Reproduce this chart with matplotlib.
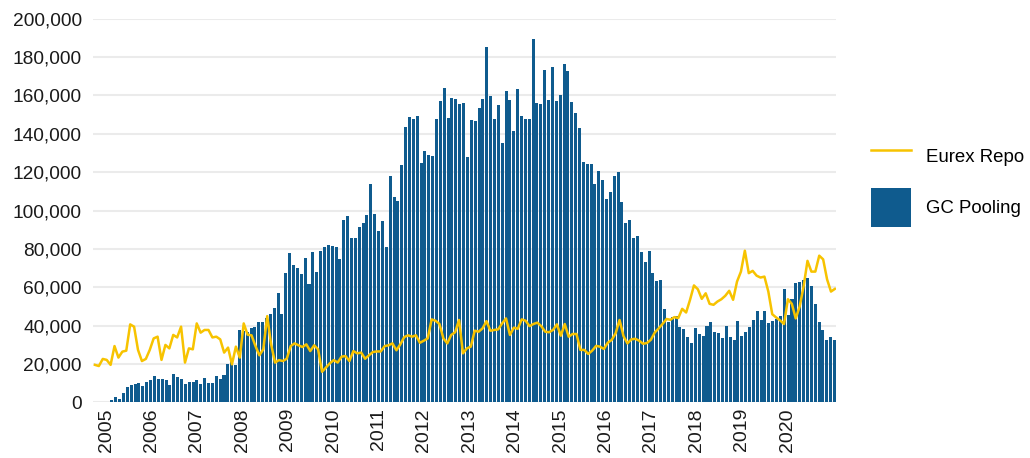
import matplotlib
matplotlib.use("Agg")
import matplotlib.pyplot as plt
import numpy as np
from matplotlib.ticker import FuncFormatter

plt.rcParams['font.family'] = ['Liberation Sans', 'DejaVu Sans']

# GC Pooling volumes, monthly bars starting 2005 (thousands)
gc_pooling = [
    0.5, 1.4, 2.8, 2.0, 5.2, 8.0, 9.2, 9.5, 10.0, 8.7, 10.7, 11.8, 13.9, 12.0, 12.3, 11.8,
    9.2, 14.7, 13.3, 12.0, 9.7, 10.6, 10.7, 11.8, 9.7, 12.8, 9.9, 10.2, 13.9, 12.5, 14.2, 20.0,
    22.5, 19.5, 37.6, 37.0, 36.7, 38.8, 39.1, 41.7, 42.2, 43.8, 46.0, 49.2, 57.3, 46.0, 67.7, 78.1,
    71.8, 70.3, 66.7, 75.5, 62.0, 78.6, 68.2, 79.1, 81.2, 82.2, 81.7, 81.2, 75.0, 95.2, 97.3, 85.9,
    85.9, 91.6, 93.7, 97.8, 113.9, 98.3, 89.5, 94.7, 81.2, 117.9, 107.2, 104.9, 123.6, 143.4, 148.6, 147.5,
    149.1, 124.9, 131.0, 128.9, 128.4, 147.6, 157.0, 163.7, 148.1, 158.5, 158.0, 155.4, 155.9, 127.9, 147.1, 146.6,
    153.3, 158.0, 185.2, 159.6, 147.6, 154.9, 135.1, 162.2, 157.5, 141.4, 163.2, 149.2, 147.6, 147.6, 189.2, 155.9,
    155.4, 173.1, 157.5, 174.6, 157.0, 160.1, 176.2, 172.6, 156.4, 150.7, 142.9, 125.3, 124.2, 124.2, 113.8, 120.6,
    115.9, 106.0, 109.7, 118.0, 120.1, 104.5, 93.6, 95.1, 85.8, 86.8, 78.4, 73.2, 79.0, 67.5, 63.4, 63.9,
    48.8, 42.1, 44.7, 45.2, 39.5, 38.4, 34.3, 30.9, 38.7, 35.6, 34.5, 39.7, 41.8, 36.6, 36.1, 33.5,
    39.7, 34.0, 32.5, 42.3, 34.5, 36.6, 39.2, 42.9, 47.5, 42.9, 47.5, 41.3, 42.3, 43.4, 44.9, 59.0,
    45.5, 53.8, 62.1, 62.6, 63.6, 64.7, 60.5, 51.2, 41.8, 37.7, 32.5, 34.0, 32.5,
]

# Eurex Repo volumes (thousands), starts a few months before the bars
eurex_repo = [
    19.6, 19.0, 22.7, 22.2, 19.6, 29.4, 23.4, 26.5, 27.0, 40.7, 39.5, 27.4, 21.6, 22.7, 27.4, 33.4,
    34.3, 22.2, 30.0, 28.2, 35.2, 33.9, 39.5, 20.8, 28.2, 27.7, 41.2, 36.4, 37.8, 37.8, 33.9, 34.3,
    32.9, 26.0,
    28.6, 19.9, 29.1, 23.4, 41.2, 35.3, 35.0, 29.4, 24.6, 27.7, 45.0, 30.3, 20.8, 22.1, 21.6, 22.8,
    29.4, 30.8, 29.8, 28.9, 30.3, 26.8, 29.8, 27.7, 16.0, 18.2, 20.4, 22.1, 20.8, 23.9, 24.2, 21.6,
    26.8, 25.6, 26.0, 22.8, 24.6, 26.3, 26.6, 26.6, 29.4, 29.8, 30.8, 27.2, 30.3, 34.1, 35.0, 34.3,
    35.0, 31.1,
    32.2, 33.4, 43.3, 42.6, 40.9, 33.4, 30.8, 35.2, 36.6, 43.0, 25.6, 28.2, 29.1, 37.4, 36.9, 38.6,
    42.4, 37.4, 37.8, 38.1, 41.2, 43.8, 35.2, 39.0, 38.4, 43.3, 42.6, 39.8, 40.9, 41.6, 39.8, 36.9,
    36.6, 37.8, 40.7, 34.8, 40.9, 34.3, 35.7, 35.7, 27.4, 27.4, 25.3, 27.0, 29.5, 29.1, 27.9, 31.2,
    32.6, 36.1, 43.0, 34.6, 30.8, 32.9,
    33.2, 32.2, 30.6, 31.0, 32.7, 36.5, 38.6, 41.0, 43.5, 43.1, 44.5, 44.0, 48.8, 46.9, 53.5, 61.0,
    59.0, 54.0, 56.9, 51.4, 50.9, 52.6, 53.8, 55.6, 58.2, 53.5, 63.0, 68.2, 79.1, 67.4, 68.6, 66.1,
    65.1, 65.6, 57.8, 46.0, 44.3, 42.8, 40.9, 53.8, 51.4, 43.8, 50.0, 60.4, 73.8, 68.2, 68.2, 76.5,
    74.6, 64.2, 57.8, 59.2,
]

years = list(range(2005, 2021))

bar_color = '#0f5b8e'
line_color = '#f7c300'

bars = np.array(gc_pooling) * 1000
repo = np.array(eurex_repo) * 1000
xb = np.arange(len(bars))
# line sampling covers slightly more than the bar range
xl = np.linspace(-3.4, len(bars) - 0.9, len(repo))

fig = plt.figure(figsize=(10.30, 4.58), dpi=100)
ax = fig.add_axes([0.0903, 0.1212, 0.7214, 0.838])

ax.bar(xb, bars, width=0.78, color=bar_color, label='GC Pooling', zorder=2)
ax.plot(xl, repo, color=line_color, lw=1.8, label='Eurex Repo', zorder=3)

ax.set_ylim(0, 200000)
ax.set_xlim(-3.9, len(bars) - 0.6)
ax.set_yticks(np.arange(0, 200001, 20000))
ax.yaxis.set_major_formatter(FuncFormatter(lambda v, p: '{:,.0f}'.format(v)))
ax.grid(axis='y', color='#ebebeb', lw=1.5, zorder=0)
ax.set_axisbelow(True)

tick_pos = [-0.5 + 11.75 * (y - 2005) for y in years]
ax.set_xticks(tick_pos)
ax.set_xticklabels([str(y) for y in years], rotation=90, va='top', ha='center')

ax.tick_params(axis='y', length=0, pad=8, labelsize=13.8, colors='#1a1a1a')
ax.tick_params(axis='x', length=0, pad=4, labelsize=14, colors='#1a1a1a')
for s in ax.spines.values():
    s.set_visible(False)

h, l = ax.get_legend_handles_labels()
order = [l.index('Eurex Repo'), l.index('GC Pooling')]
fig.legend([h[i] for i in order], [l[i] for i in order], loc='upper left',
           bbox_to_anchor=(871 / 1030, 1 - 137 / 458),
           frameon=False, fontsize=13.4, handlelength=2.15, handleheight=2.85,
           handletextpad=0.8, labelspacing=0.65, borderpad=0, borderaxespad=0)

fig.savefig('out.png', dpi=100)
